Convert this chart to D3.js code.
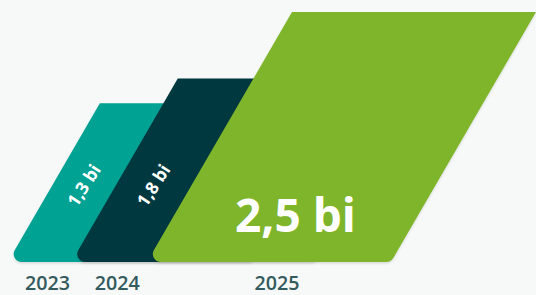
<!DOCTYPE html>
<html>
<head>
<meta charset="utf-8">
<script src="https://cdn.jsdelivr.net/npm/d3@7"></script>
<style>
  html, body { margin: 0; padding: 0; background: #f7f8f8; }
  svg { display: block; }
</style>
</head>
<body>
<script>
// ---- data ----
const years = ["2023", "2024", "2025"];
const values = [1.3, 1.8, 2.5];
const valueLabels = ["1,3 bi", "1,8 bi", "2,5 bi"];
const colors = ["#00a294", "#003840", "#7fb52a"];

const W = 536, H = 295;
const baseline = 262;
const slope = 0.58;     // horizontal shift per vertical pixel
const barWidth = 244;
const radius = 8;

const svg = d3.select("body").append("svg").attr("width", W).attr("height", H);

// stylised scales (infographic)
const y = d3.scalePow().exponent(3).domain([0, 2.5]).range([baseline - 143.7, 12]);
const x = d3.scaleSqrt().domain([0, 2.5]).range([-352, 147]);

const defs = svg.append("defs");
const f = defs.append("filter").attr("id", "sh").attr("x", "-10%").attr("y", "-10%").attr("width", "120%").attr("height", "130%");
f.append("feDropShadow").attr("dx", 0).attr("dy", 1.5).attr("stdDeviation", 1.2).attr("flood-color", "#000").attr("flood-opacity", 0.12);

function barPath(v) {
  const x0 = x(v), yT = y(v);
  const xT = x0 + slope * (baseline - yT);
  const p = d3.path();
  p.moveTo(xT, yT);
  p.arcTo(x0, baseline, x0 + barWidth, baseline, radius);
  p.arcTo(x0 + barWidth, baseline, xT + barWidth, yT, radius);
  p.lineTo(xT + barWidth, yT);
  p.closePath();
  return p.toString();
}

const data = years.map((yr, i) => ({ year: yr, value: values[i], label: valueLabels[i], color: colors[i], i }));

svg.selectAll("path.bar").data(data).join("path")
  .attr("class", "bar")
  .attr("d", d => barPath(d.value))
  .attr("fill", d => d.color)
  .attr("filter", "url(#sh)");

// edge x at given y for bar
const edgeX = (v, yy) => x(v) + slope * (baseline - yy);

// small rotated labels
const smallY = 185;
data.slice(0, 2).forEach((d, i) => {
  const cx = (edgeX(d.value, smallY) + edgeX(values[i + 1], smallY)) / 2 - 1;
  svg.append("text")
    .attr("transform", `translate(${cx},${smallY}) rotate(-57)`)
    .attr("text-anchor", "middle")
    .attr("dominant-baseline", "central")
    .attr("font-family", "Open Sans, sans-serif")
    .attr("font-weight", 700)
    .attr("font-size", 17.5)
    .attr("fill", "#fff")
    .text(d.label);
});

// big label
const big = data[2];
const bigY = 232;
svg.append("text")
  .attr("x", edgeX(big.value, bigY) + barWidth / 2 + 9)
  .attr("y", bigY)
  .attr("text-anchor", "middle")
  .attr("font-family", "Open Sans, sans-serif")
  .attr("font-weight", 700)
  .attr("font-size", 46)
  .attr("fill", "#fff")
  .text(big.label);

// year labels
data.forEach((d, i) => {
  const left = x(d.value);
  const right = i < data.length - 1 ? x(values[i + 1]) : x(d.value) + barWidth;
  svg.append("text")
    .attr("x", (left + right) / 2 + 8)
    .attr("y", 289.5)
    .attr("text-anchor", "middle")
    .attr("font-family", "Open Sans, sans-serif")
    .attr("font-weight", 600)
    .attr("font-size", 20)
    .attr("textLength", 45)
    .attr("lengthAdjust", "spacingAndGlyphs")
    .attr("fill", "#335a5d")
    .text(d.year);
});
</script>
</body>
</html>
